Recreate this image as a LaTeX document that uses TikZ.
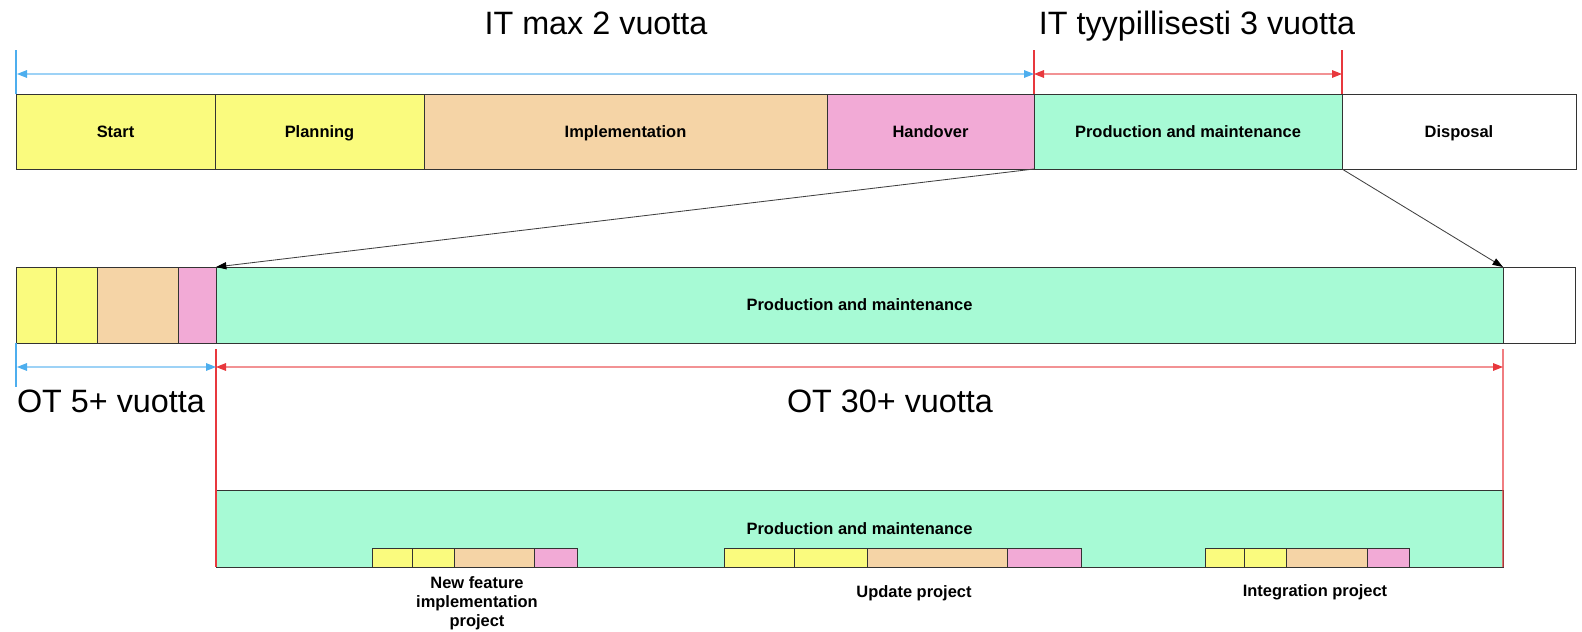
\documentclass[tikz,border=0pt]{standalone}
\usepackage{fontspec}
\setmainfont{Liberation Sans}
\usetikzlibrary{arrows.meta}

\definecolor{startyellow}{HTML}{FAFB7E}
\definecolor{impltan}{HTML}{F5D4A6}
\definecolor{handpink}{HTML}{F2AAD6}
\definecolor{prodgreen}{HTML}{A7FAD5}
\definecolor{itblue}{HTML}{4DAEEE}
\definecolor{otred}{HTML}{E8383D}

% one phase box: name, x1, x2, y1, y2, fill, text
\newcommand{\phasebox}[7]{%
  \node[seg, fill=#6, minimum width={(#3-#2)*0.025cm}, minimum height={(#5-#4)*0.025cm}]
    (#1) at ({(#2+#3)/2},{(#4+#5)/2}) {#7};}

\begin{document}
\begin{tikzpicture}[x=0.025cm, y=-0.025cm,
    seg/.style={draw=black!80, line width=0.6pt, inner sep=0pt, outer sep=0pt,
      text height=8.4pt, text depth=0pt, font=\fontsize{11.7}{13.5}\selectfont\bfseries},
    spanlabel/.style={anchor=base, inner sep=0pt, font=\fontsize{23}{27}\selectfont},
    projlabel/.style={align=center, inner sep=0pt, font=\fontsize{11.7}{13.5}\selectfont\bfseries},
    bluetick/.style={itblue, line width=0.9pt},
    redtick/.style={otred, line width=0.9pt},
    bluedim/.style={itblue!55, line width=0.8pt,
      {Triangle[length=2.5mm,width=1.9mm,color=itblue]}-{Triangle[length=2.5mm,width=1.9mm,color=itblue]}},
    reddim/.style={otred!55, line width=0.8pt,
      {Triangle[length=2.5mm,width=1.9mm,color=otred]}-{Triangle[length=2.5mm,width=1.9mm,color=otred]}},
    zoomline/.style={black!75, line width=0.6pt, -{Triangle[length=2.6mm,width=1.8mm,color=black]}}]
  \useasboundingbox (0,0) rectangle (1582,631);

  % IT life cycle
  \phasebox{startIT}{16}{215}{94}{169}{startyellow}{Start}
  \phasebox{planIT}{215}{424}{94}{169}{startyellow}{Planning}
  \phasebox{implIT}{424}{827}{94}{169}{impltan}{Implementation}
  \phasebox{handIT}{827}{1034}{94}{169}{handpink}{Handover}
  \phasebox{prodIT}{1034}{1342}{94}{169}{prodgreen}{Production and maintenance}
  \phasebox{dispIT}{1342}{1576}{94}{169}{white}{Disposal}

  % OT life cycle
  \phasebox{startOT}{16}{56}{267}{343}{startyellow}{}
  \phasebox{planOT}{56}{97}{267}{343}{startyellow}{}
  \phasebox{implOT}{97}{178}{267}{343}{impltan}{}
  \phasebox{handOT}{178}{216}{267}{343}{handpink}{}
  \phasebox{prodOT}{216}{1503}{267}{343}{prodgreen}{Production and maintenance}
  \phasebox{dispOT}{1503}{1575}{267}{343}{white}{}

  % OT production with projects
  \phasebox{prodLC}{216}{1503}{490}{567}{prodgreen}{Production and maintenance}
  \phasebox{newS}{372}{412}{548}{567}{startyellow}{}
  \phasebox{newP}{412}{454}{548}{567}{startyellow}{}
  \phasebox{newI}{454}{534}{548}{567}{impltan}{}
  \phasebox{newH}{534}{577}{548}{567}{handpink}{}
  \phasebox{updS}{724}{794}{548}{567}{startyellow}{}
  \phasebox{updP}{794}{867}{548}{567}{startyellow}{}
  \phasebox{updI}{867}{1007}{548}{567}{impltan}{}
  \phasebox{updH}{1007}{1081}{548}{567}{handpink}{}
  \phasebox{intS}{1205}{1244}{548}{567}{startyellow}{}
  \phasebox{intP}{1244}{1286}{548}{567}{startyellow}{}
  \phasebox{intI}{1286}{1367}{548}{567}{impltan}{}
  \phasebox{intH}{1367}{1409}{548}{567}{handpink}{}

  \node[projlabel] (newlbl) at (477,603) {New feature\\implementation\\project};
  \node[projlabel] (updlbl) at (914,593) {Update project};
  \node[projlabel] (intlbl) at (1315,592) {Integration project};

  % zoom from IT production to OT production
  \draw[zoomline] (prodIT.south west) -- (prodOT.north west);
  \draw[zoomline] (prodIT.south east) -- (prodOT.north east);

  % IT spans
  \coordinate (itA) at (17,74);
  \coordinate (itB) at (1034,74);
  \coordinate (itC) at (1342,74);
  \draw[bluetick] (startIT.north west) -- ++(0,-44);
  \draw[redtick] (prodIT.north west) -- ++(0,-44);
  \draw[redtick] (prodIT.north east) -- ++(0,-44);
  \draw[bluedim] (itA) -- (itB);
  \draw[reddim] (itB) -- (itC);
  \node[spanlabel] (itmax) at (596,34) {IT max 2 vuotta};
  \node[spanlabel] (ittyp) at (1197,34) {IT tyypillisesti 3 vuotta};

  % OT spans
  \coordinate (otA) at (17,367);
  \coordinate (otB) at (216,367);
  \coordinate (otC) at (1503,367);
  \coordinate (otBtop) at (216,349);
  \coordinate (otCtop) at (1503,349);
  \draw[bluetick] (startOT.south west) -- ++(0,44);
  \draw[redtick] (otBtop) -- (prodLC.south west);
  \draw[redtick] (otCtop) -- (prodLC.south east);
  \draw[bluedim] (otA) -- (otB);
  \draw[reddim] (otB) -- (otC);
  \node[spanlabel] (ot5) at (111,412) {OT 5+ vuotta};
  \node[spanlabel] (ot30) at (890,412) {OT 30+ vuotta};
\end{tikzpicture}
\end{document}
